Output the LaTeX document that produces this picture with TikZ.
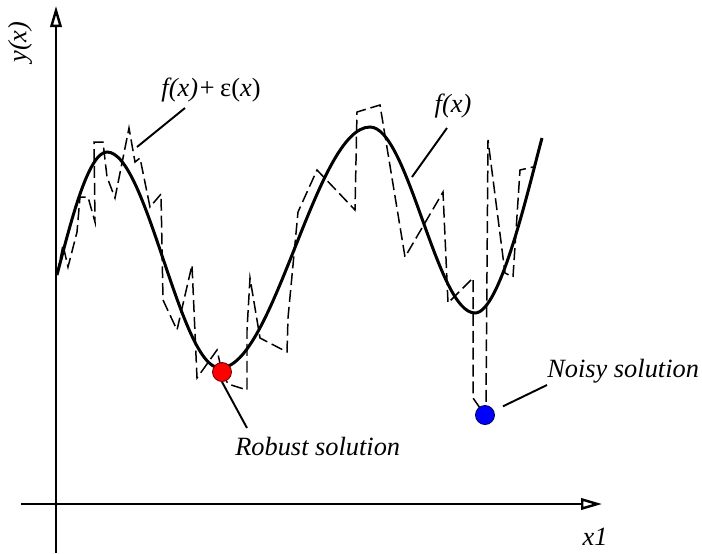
\documentclass[tikz,border=0pt]{standalone}
\usepackage{fontspec}
\setmainfont{Liberation Serif}
\usetikzlibrary{arrows.meta,positioning,calc}
\tikzset{
  axis/.style={line width=1.4pt,-{Triangle[open,length=4.2mm,width=2.3mm]}},
  fcurve/.style={line width=1.7pt},
  noisy/.style={line width=0.85pt,dash pattern=on 6.8pt off 2.8pt},
  sol/.style={circle,draw,inner sep=0pt,minimum size=0.38cm,line width=0.5pt},
  lbl/.style={font=\fontsize{15}{18}\selectfont\itshape,inner sep=0pt},
  lead/.style={line width=1.1pt}
}

\begin{document}
\begin{tikzpicture}[x=0.2mm,y=-0.2mm]
  \useasboundingbox (0,0) rectangle (702,553);
  % Axes
  \coordinate (xstart) at (21,504);
  \coordinate (xend) at (602,504);
  \coordinate (ystart) at (56,553);
  \coordinate (yend) at (56,6);
  \draw[axis] (xstart) -- (xend);
  \draw[axis] (ystart) -- (yend);
  \node[lbl] (xlbl) at (595,537) {x1};
  \node[lbl, rotate=90] (ylbl) at (20,42) {y(x)};

  % Smooth function f(x)
  \draw[fcurve] (57,275) .. controls (70,225) and (88,152) .. (107,152)
    .. controls (147,152) and (180,368) .. (220,368)
    .. controls (274,368) and (316,127) .. (370,127)
    .. controls (408,127) and (437,313) .. (475,313)
    .. controls (500,313) and (528,190) .. (542,138);

  % Noisy function f(x)+eps(x)
  \draw[noisy] (57,275) -- (63,245) -- (68,267) -- (77,232) -- (80,197)
    -- (88,197) -- (95,222) -- (94,142) -- (103,142) -- (107,177)
    -- (115,198) -- (129,128) -- (135,162) -- (140,158) -- (150,207)
    -- (161,194) -- (163,300) -- (177,330) -- (192,265) -- (197,378)
    -- (217,350) -- (222,372) -- (228,384) -- (247,390) -- (247,330)
    -- (250,278) -- (260,338) -- (287,352) -- (288,318) -- (298,212)
    -- (317,170) -- (355,210) -- (357,112) -- (380,105) -- (405,257)
    -- (443,192) -- (448,303) -- (473,278) -- (473,398) -- (480,408)
    -- (485,415) -- (486,405) -- (488,140) -- (505,273) -- (513,277)
    -- (520,170) -- (533,167);

  % Solutions
  \node[sol, fill=red, draw=red!45!black] (robust) at (222,372) {};
  \node[sol, fill=blue, draw=blue!35!black] (noisysol) at (485,415) {};

  % Labels and leaders
  \node[lbl, anchor=west] (robustlbl) at (235,447) {Robust solution};
  \node[lbl, anchor=west] (noisylbl) at (547,371) {Noisy solution};
  \node[lbl] (flbl) at (453,106) {f(x)};
  \node[lbl] (fnlbl) at (211,90) {f(x)+\,\upshape ε(\itshape x\upshape )};

  \coordinate (rlead) at (247,428);
  \coordinate (nlead) at (547,385);
  \coordinate (ftop) at (447,128);
  \coordinate (fbot) at (412,177);
  \coordinate (fntop) at (185,108);
  \coordinate (fnbot) at (137,147);
  \draw[lead] (robust.south) -- (rlead);
  \draw[lead, shorten <=0.2cm] (noisysol) -- (nlead);
  \draw[lead] (ftop) -- (fbot);
  \draw[lead] (fntop) -- (fnbot);
\end{tikzpicture}
\end{document}
